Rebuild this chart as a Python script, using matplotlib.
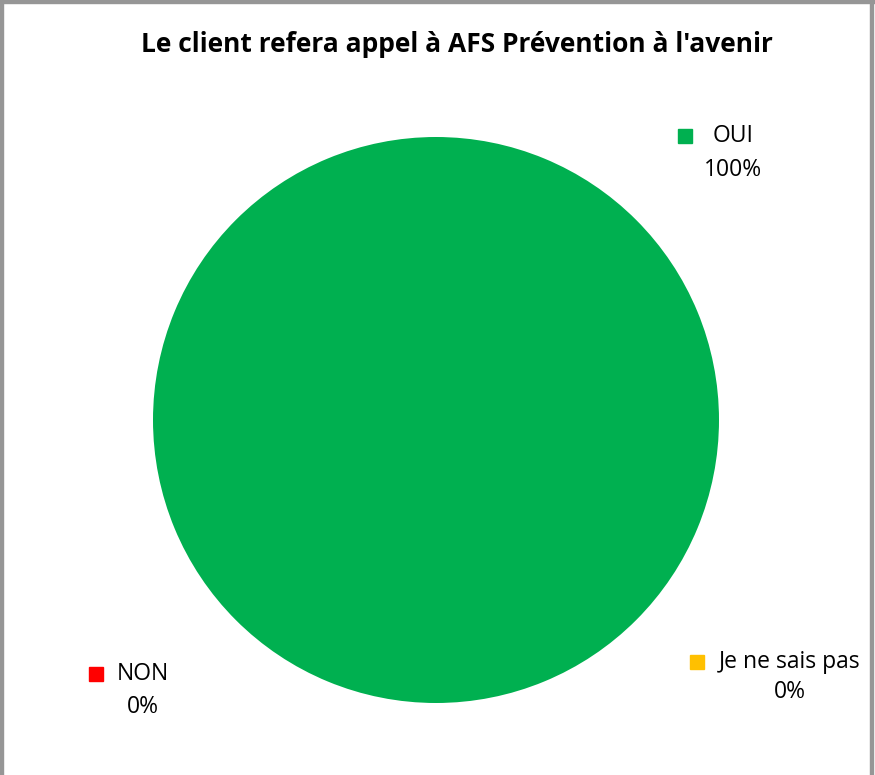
import matplotlib.pyplot as plt
from matplotlib.patches import Rectangle

# Données
labels = ["OUI", "NON", "Je ne sais pas"]
values = [100, 0, 0]
colors = ["#00B050", "#FF0000", "#FFC000"]

W, H = 875, 775
fig = plt.figure(figsize=(W / 100, H / 100), dpi=100)
plt.rcParams['font.family'] = ['Open Sans', 'DejaVu Sans']

# Cadre gris du graphique
for rect in [(0, 0, 2.5, H), (0, H - 3, W, 3), (W - 5, 0, 3, H)]:
    fig.patches.append(Rectangle((rect[0] / W, rect[1] / H), rect[2] / W, rect[3] / H,
                                 transform=fig.transFigure, color="#969696", zorder=0))

cx, cy, r = 436, 420, 283
ax = fig.add_axes([(cx - r) / W, 1 - (cy + r) / H, 2 * r / W, 2 * r / H])
ax.pie(values, colors=colors, startangle=90, counterclock=False,
       wedgeprops=dict(linewidth=0))
ax.set_xlim(-1, 1)
ax.set_ylim(-1, 1)
ax.set_aspect("equal")
ax.axis("off")

fig.text(457 / W, 1 - 45 / H, "Le client refera appel à AFS Prévention à l'avenir",
         ha="center", va="center", fontsize=19, fontweight="bold")

total = sum(values)
# positions des étiquettes (centre du texte, marqueur)
pos = {"OUI": (733, 136, 685, 170),
       "NON": (143, 674, 96, 707),
       "Je ne sais pas": (790, 662, 697, 692)}
for lab, val, col in zip(labels, values, colors):
    tx, ty, mx, py = pos[lab]
    pct = f"{val / total * 100:.0f}%"
    fig.text(tx / W, 1 - ty / H, lab, ha="center", va="center", fontsize=16.5)
    fig.text(tx / W, 1 - py / H, pct, ha="center", va="center", fontsize=16.5)
    fig.patches.append(Rectangle(((mx - 7) / W, 1 - (ty + 7) / H), 14 / W, 14 / H,
                                 transform=fig.transFigure, color=col))

fig.savefig("out.png", dpi=100)
